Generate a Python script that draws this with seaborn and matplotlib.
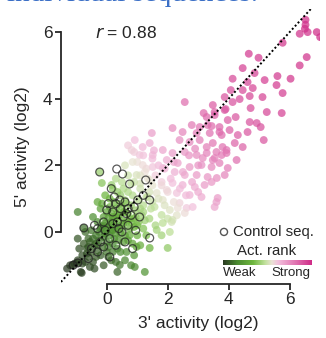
import matplotlib
matplotlib.use("Agg")
import matplotlib.pyplot as plt
from matplotlib.colors import LinearSegmentedColormap
import numpy as np
import pandas as pd
import seaborn as sns

# ---- data (3' activity, 5' activity), log2 ----
seq_points = [
    # strong / pink upper region
    (6.52, 6.22), (6.59, 6.0), (6.33, 5.95), (6.89, 6.0), (7.1, 5.8), (5.77, 5.68),
    (6.56, 5.25), (4.66, 5.35), (4.98, 5.23), (4.46, 4.92), (4.85, 4.77), (5.6, 4.68),
    (6.03, 4.6), (5.18, 4.56), (4.13, 4.6), (4.62, 4.5), (5.57, 4.41), (4.79, 4.32),
    (4.07, 4.26), (4.46, 4.26), (5.77, 4.17), (5.11, 4.05), (3.87, 4.05), (4.36, 3.99),
    (4.69, 4.08), (4.13, 3.9), (3.48, 3.81), (4.72, 3.72), (5.25, 3.6), (5.74, 3.57),
    (3.9, 3.69), (4.23, 3.45), (3.97, 3.36), (4.69, 3.3), (4.92, 3.27), (5.05, 3.15),
    (3.7, 3.15), (3.44, 3.18), (3.28, 3.45), (3.54, 3.6), (4.62, 3.0), (4.3, 2.91),
    (4.03, 3.06), (3.77, 2.91), (5.15, 2.76), (4.2, 2.67), (4.46, 2.55), (3.93, 2.46),
    (3.6, 2.4), (3.77, 2.31), (4.26, 2.16), (3.97, 1.92), (3.28, 2.55), (3.15, 2.22),
    (3.48, 2.16), (6.52, 6.37), (6.5, 6.1), (7.0, 5.85), (6.33, 5.0),
    (2.56, 3.9), (3.18, 3.57), (3.54, 3.51), (3.87, 3.66), (2.79, 3.21), (3.05, 3.15),
    (3.31, 3.21), (1.48, 2.97), (2.16, 3.12), (2.49, 3.0), (2.95, 2.97), (3.38, 2.97),
    (3.7, 3.0), (2.39, 2.76), (2.72, 2.7), (3.05, 2.76), (3.48, 2.67), (3.8, 2.55),
    (1.84, 2.46), (2.16, 2.37), (2.56, 2.4), (2.95, 2.31), (3.28, 2.37), (3.54, 2.22),
    (3.93, 2.37), (0.92, 2.76), (1.18, 2.55), (1.41, 2.67), (0.82, 2.46), (1.08, 2.31),
    (1.51, 2.31), (1.97, 2.16), (2.33, 2.07), (2.72, 1.95), (3.11, 2.01), (3.44, 1.95),
    (3.7, 2.07), (1.51, 1.95), (1.84, 1.92), (2.23, 1.8), (2.56, 1.71), (2.95, 1.71),
    (3.31, 1.65), (3.61, 1.62), (3.87, 1.71), (1.41, 1.56), (1.8, 1.5), (2.16, 1.47),
    (2.49, 1.41), (2.89, 1.35), (3.21, 1.41), (3.44, 1.5), (3.64, 1.02), (1.97, 1.26),
    (1.64, 1.17), (2.3, 1.17), (2.72, 1.11), (3.11, 1.05), (1.84, 0.96), (2.39, 0.87),
    (2.82, 0.75), (3.54, 0.75), (1.57, 0.75), (2.07, 0.66), (2.33, 0.72), (1.8, 0.51),
    (2.16, 0.36), (2.56, 0.57), (2.62, 0.72), (2.13, 0.3), (1.84, 0.27), (2.07, 0.0),
    (2.0, -0.48), (3.6, 0.9), (2.9, 2.5),
    # middle / light region
    (0.85, 2.1), (1.18, 2.01), (1.25, 1.8), (0.98, 1.71), (1.34, 1.05), (1.64, 0.06),
    (1.41, -0.48), (0.98, -0.45), (1.25, -1.2), (0.43, -0.99),
    (0.5, 1.5), (0.7, 1.7), (0.9, 1.5), (1.1, 1.7), (1.3, 1.9), (1.0, 2.1), (0.6, 2.0),
    (0.3, 1.6), (1.5, 1.4), (1.6, 1.7), (1.4, 1.2), (1.7, 1.0), (1.8, 1.4), (1.2, 0.6),
    (1.4, 0.4), (1.6, 0.2), (1.3, -0.1), (1.1, -0.4), (0.9, -0.7), (0.6, -0.85),
    (0.35, -1.2), (0.8, -1.0), (1.5, 0.9), (1.9, 0.8), (2.0, 1.2), (1.7, 2.0),
    (1.5, 2.2), (1.2, 2.3), (0.9, 2.4), (0.7, 2.6), (-0.05, 1.1), (-0.3, 0.9),
    (0.2, 1.3), (1.9, 1.9), (2.1, 1.6), (2.2, 0.9), (2.4, 1.3), (2.3, 0.5),
    (2.6, 1.1), (2.0, 0.4), (1.8, -0.1), (2.2, 2.1), (2.5, 1.8), (2.8, 1.5),
    (3.0, 1.2), (2.7, 2.3), (3.0, 2.0), (1.55, 2.45), (1.1, 1.45), (1.35, 1.6),
    # weak / green cluster
    (-1.2, -1.0), (-1.05, -0.95), (-0.95, -0.85), (-0.85, -1.2), (-0.8, -0.7),
    (-0.7, -0.9), (-0.65, -0.5), (-0.6, -0.75), (-0.55, -0.3), (-0.5, -0.6),
    (-0.45, -0.9), (-0.4, -0.4), (-0.35, -0.1), (-0.3, -0.55), (-0.25, -0.25),
    (-0.2, 0.1), (-0.15, -0.45), (-0.1, -0.15), (-0.05, 0.25), (0.0, -0.3), (0.0, 0.0),
    (0.05, 0.4), (0.1, -0.1), (0.1, 0.2), (0.15, 0.55), (0.2, -0.35), (0.2, 0.05),
    (0.25, 0.35), (0.3, 0.7), (0.3, -0.05), (0.35, 0.2), (0.4, 0.5), (0.4, -0.25),
    (0.45, 0.85), (0.5, 0.1), (0.5, 0.35), (0.55, 0.6), (0.6, -0.1), (0.6, 0.95),
    (0.65, 0.3), (0.7, 0.55), (0.75, 0.1), (0.8, 0.8), (0.85, 1.1), (0.9, 0.4),
    (0.95, 0.65), (1.0, 0.2), (1.05, 0.95), (1.1, 1.3), (1.15, 0.5), (1.2, 0.8),
    (1.3, 1.05), (-0.6, -0.2), (-0.9, -0.5), (-0.75, -0.35), (-0.5, 0.05), (-0.3, 0.3),
    (-0.2, -0.7), (0.0, -0.6), (0.2, -0.6), (0.35, -0.5), (0.55, -0.3), (0.25, 0.9),
    (0.0, 0.6), (-0.1, 0.45), (0.1, 0.75), (0.45, 1.1), (0.7, 1.2), (0.15, -0.85),
    (-0.4, -1.1), (-0.1, -1.0), (0.3, -0.9), (0.65, -0.6), (0.85, -0.35), (1.0, -0.1),
    (1.2, 0.1), (-0.95, -0.2), (-0.7, 0.0),
    (-0.23, 1.8), (0.16, 1.41), (-0.16, 1.47), (-0.95, 0.6), (-0.75, 0.12),
    (-1.11, -0.99), (-0.95, -0.93), (-0.82, -1.23), (0.92, -1.05), (-1.3, -1.1),
    (-0.55, -1.05), (0.05, -0.45), (0.3, 0.45), (0.15, 0.05), (-0.15, 0.15),
    (0.55, 0.25), (0.75, 0.4), (0.4, 0.15), (0.6, 0.6), (-0.35, -0.35), (-0.6, -0.45),
    (0.25, -0.2), (0.45, -0.05), (0.7, -0.25), (0.9, 0.15), (0.1, 1.0), (-0.2, 0.7),
    (-0.45, -0.2), (-0.25, 0.0), (-0.05, -0.05), (0.05, 0.15), (0.25, 0.1),
    (0.35, 0.55), (0.5, 0.75), (0.65, 0.85), (0.8, 0.3), (0.95, 0.45), (1.1, 0.7),
    (0.2, 0.45), (-0.1, 0.2), (-0.35, -0.75), (-0.8, -0.95), (-0.65, -0.65),
    (0.05, -0.75), (0.45, -0.6), (0.75, -0.1), (1.05, 0.3), (0.35, 1.2), (0.55, 1.3),
    (0.8, 1.45), (-0.45, 0.45), (-0.15, 0.85), (1.25, 0.35), (1.45, 0.7), (0.15, 0.3),
]

ctrl_points = [
    (-0.23, 1.8), (0.33, 1.89), (0.52, 1.74), (0.75, 1.44), (-0.75, 0.12),
    (1.41, -0.18), (1.08, 0.45), (1.02, 0.96), (1.41, 0.96), (0.43, 0.96),
    (0.6, 0.9), (0.1, -0.75), (-0.95, -0.93), (-1.1, -1.0), (-0.3, 0.1),
    (-0.1, 0.3), (0.0, 0.66), (0.2, 0.6), (0.35, 0.3), (0.5, 0.0), (0.7, 0.2),
    (0.8, 0.5), (0.9, 0.75), (-0.2, -0.3), (-0.5, -0.5), (0.1, -0.2), (0.3, -0.4),
    (0.6, -0.3), (0.95, 0.05), (0.25, 1.05), (1.2, 1.1), (1.28, 1.56),
    (0.05, 0.85), (-0.4, 0.2), (0.45, 0.7), (0.7, 0.7), (-0.6, -0.8), (0.85, -0.5),
    (-0.05, 0.05), (0.2, 0.25), (0.55, 0.45), (-0.3, -0.6), (0.15, 1.3),
    (0.4, 0.1), (0.65, 0.55), (-0.1, -0.45), (0.3, 0.85),
]

r_text = "$r$ = 0.88"
x_ticks = [0, 2, 4, 6]
y_ticks = [0, 2, 4, 6]

seq_x3 = [p[0] for p in seq_points]
seq_y5 = [p[1] for p in seq_points]
ctrl_x3 = [p[0] for p in ctrl_points]
ctrl_y5 = [p[1] for p in ctrl_points]

df = pd.DataFrame({"x3": seq_x3, "y5": seq_y5})
df["rank"] = (df["x3"] + df["y5"]).rank(pct=True)
df = df.sort_values("rank", ascending=False)

cmap = LinearSegmentedColormap.from_list(
    "actrank",
    [(0.0, "#2a3a22"), (0.16, "#4a8a30"), (0.34, "#6fb83f"), (0.47, "#bfe09a"),
     (0.55, "#ebe3d6"), (0.62, "#f2c0dc"), (0.8, "#e27ab5"), (1.0, "#cf2b87")],
)

sns.set_style("ticks")
plt.rcParams["font.family"] = ["Liberation Sans", "DejaVu Sans"]

fig = plt.figure(figsize=(3.26, 3.38), dpi=100)
ax = fig.add_axes([0.187, 0.160, 0.795, 0.814])

sns.scatterplot(data=df, x="x3", y="y5", hue="rank", palette=cmap, hue_norm=(0, 1),
                s=32, alpha=0.72, linewidth=0, legend=False, ax=ax, zorder=2)
sns.scatterplot(x=ctrl_x3, y=ctrl_y5, s=32, facecolor="none", edgecolor="#222222",
                linewidth=0.9, alpha=0.75, legend=False, ax=ax, zorder=3)

ax.axline((0, 0), slope=1, color="black", linestyle=(0, (1, 1.2)), linewidth=1.4, zorder=4)

ax.set_xlim(-1.5, 7.0)
ax.set_ylim(-1.56, 6.7)
ax.set_xticks(x_ticks)
ax.set_yticks(y_ticks)
ax.tick_params(labelsize=12.5, length=4, width=1.3, pad=2)
for s in ["top", "right"]:
    ax.spines[s].set_visible(False)
ax.spines["left"].set_bounds(0, 6)
ax.spines["bottom"].set_bounds(0, 6)
ax.spines["left"].set_linewidth(1.3)
ax.spines["bottom"].set_linewidth(1.3)

ax.set_xlabel("3' activity (log2)", fontsize=12.5)
ax.set_ylabel("5' activity (log2)", fontsize=12.5)
ax.xaxis.set_label_coords(0.529, -0.118)
ax.yaxis.set_label_coords(-0.12, 0.498)

ax.text(0.131, 0.913, r_text, transform=ax.transAxes, fontsize=12.5, va="center", ha="left")

# legend: control seq marker
ax.scatter([0.629], [0.189], s=26, facecolor="none", edgecolor="#555555", linewidth=1.0,
           transform=ax.transAxes, clip_on=False, zorder=5)
ax.text(0.664, 0.189, "Control seq.", transform=ax.transAxes, fontsize=10.8, va="center", ha="left")
ax.text(0.795, 0.12, "Act. rank", transform=ax.transAxes, fontsize=10.8, va="center", ha="center")
ax.text(0.625, 0.04, "Weak", transform=ax.transAxes, fontsize=9.5, va="center", ha="left")
ax.text(0.961, 0.04, "Strong", transform=ax.transAxes, fontsize=9.5, va="center", ha="right")

cax = fig.add_axes([0.684, 0.216, 0.27, 0.0148])
cax.imshow(np.linspace(0, 1, 256)[None, :], aspect="auto", cmap=cmap)
cax.set_axis_off()

# cropped heading from the page above
fig.text(7 / 326, 1.0 - 1.0 / 338, "individual sequences.", fontsize=21, family="Liberation Serif",
         color="#3b6fc6", ha="left", va="baseline")

fig.savefig("out.png", dpi=100)
